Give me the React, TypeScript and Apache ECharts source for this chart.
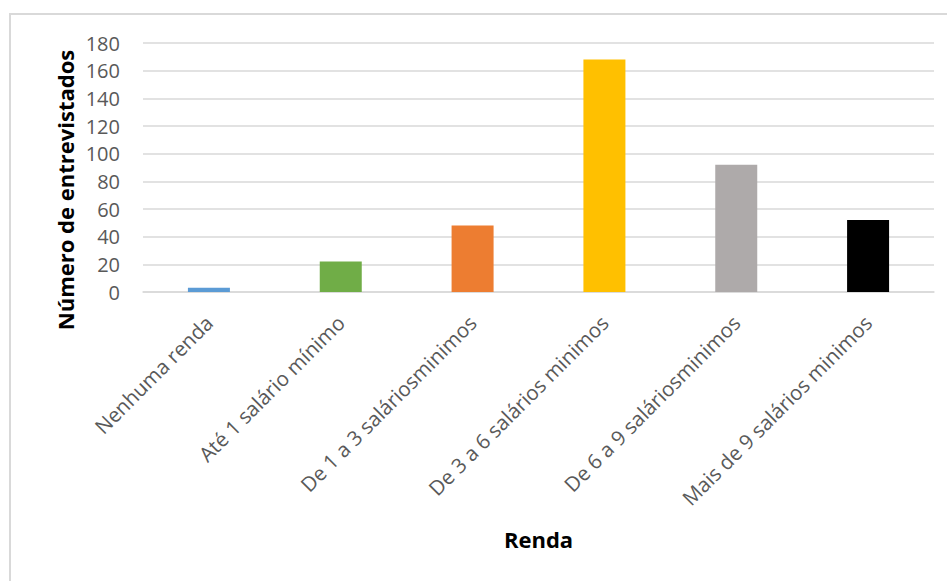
import React, { useEffect, useRef } from "react";
import * as echarts from "echarts";

// Faixas de renda e número de entrevistados em cada uma
const categories = [
  "Nenhuma renda",
  "Até 1 salário mínimo",
  "De 1 a 3 saláriosminimos",
  "De 3 a 6 salários minimos",
  "De 6 a 9 saláriosminimos",
  "Mais de 9 salários minimos",
];
const values = [3, 22, 48, 168, 92, 52];
const barColors = ["#5B9BD5", "#70AD47", "#ED7D31", "#FFC000", "#AEAAAA", "#000000"];

const yTitle = "Número de entrevistados";
const xTitle = "Renda";

const FONT = "'Open Sans', 'Noto Sans', sans-serif";

export default function App() {
  const ref = useRef<HTMLDivElement>(null);

  useEffect(() => {
    if (!ref.current) return;
    const chart = echarts.init(ref.current, null, { renderer: "svg" });
    chart.setOption({
      animation: false,
      backgroundColor: "#ffffff",
      grid: { left: 143, right: 13, top: 43, bottom: 289, containLabel: false },
      xAxis: {
        type: "category",
        data: categories,
        name: xTitle,
        nameLocation: "middle",
        nameGap: 236,
        nameTextStyle: { fontFamily: FONT, fontSize: 22, fontWeight: "bold", color: "#000000" },
        axisTick: { show: false },
        axisLine: { lineStyle: { color: "#d9d9d9", width: 1.5 } },
        axisLabel: {
          interval: 0,
          rotate: 45,
          margin: 27,
          color: "#595959",
          fontFamily: FONT,
          fontSize: 20.5,
        },
      },
      yAxis: {
        type: "value",
        min: 0,
        max: 180,
        interval: 20,
        axisLine: { show: false },
        axisTick: { show: false },
        axisLabel: { color: "#595959", fontFamily: FONT, fontSize: 20, margin: 23 },
        splitLine: { lineStyle: { color: "#d9d9d9", width: 1.5 } },
      },
      graphic: [
        {
          type: "rect",
          silent: true,
          shape: { x: 10, y: 14, width: 1200, height: 1200 },
          style: { fill: "none", stroke: "#d9d9d9", lineWidth: 2 },
        },
        {
          type: "text",
          x: 65,
          y: 190,
          rotation: Math.PI / 2,
          style: {
            text: yTitle,
            fill: "#000000",
            font: `bold 22px ${FONT}`,
            textAlign: "center",
            textVerticalAlign: "middle",
          },
        },
      ],
      series: [
        {
          type: "bar",
          barWidth: 42,
          data: values.map((v, i) => ({ value: v, itemStyle: { color: barColors[i] } })),
        },
      ],
    });
    return () => chart.dispose();
  }, []);

  return (
    <div
      ref={ref}
      style={{ position: "fixed", left: 0, top: 0, width: 947, height: 581 }}
    />
  );
}
